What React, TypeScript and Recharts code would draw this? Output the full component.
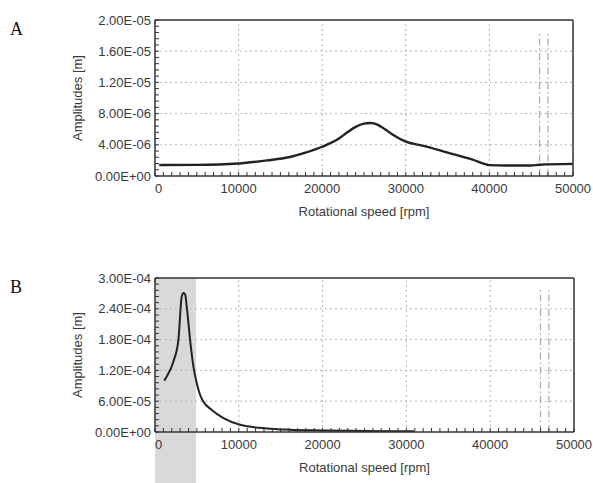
import React from 'react';
import { LineChart, Line, XAxis, YAxis, ReferenceLine, ReferenceArea } from 'recharts';

// Panel A: rotational speed [rpm] vs amplitude [m]
const rpmA = [500, 5000, 10000, 13400, 16000, 18000, 20000, 22000, 23000, 24000, 25000, 25800, 26600, 27500, 28500, 30000, 32000, 35000, 38000, 40000, 42000, 45000, 46000, 50000];
const ampA = [1.4e-6, 1.42e-6, 1.6e-6, 2.0e-6, 2.4e-6, 3.0e-6, 3.75e-6, 4.8e-6, 5.6e-6, 6.3e-6, 6.72e-6, 6.8e-6, 6.6e-6, 6.0e-6, 5.25e-6, 4.4e-6, 3.9e-6, 3.0e-6, 2.1e-6, 1.4e-6, 1.35e-6, 1.35e-6, 1.45e-6, 1.55e-6];

// Panel B
const rpmB = [1100, 1400, 2190, 2790, 3190, 3400, 3600, 3790, 4190, 4590, 4990, 5300, 5780, 6780, 8170, 10170, 13360, 16000, 20000, 25000, 30900];
const ampB = [1.0e-4, 1.08e-4, 1.37e-4, 1.79e-4, 2.64e-4, 2.71e-4, 2.68e-4, 2.44e-4, 1.79e-4, 1.27e-4, 9.5e-5, 7.6e-5, 5.9e-5, 4.3e-5, 2.7e-5, 1.4e-5, 7e-6, 4.5e-6, 3e-6, 2e-6, 1.5e-6];

const xMajorTicks = [0, 10000, 20000, 30000, 40000, 50000];
const yMajorTicksA = [0, 4e-6, 8e-6, 1.2e-5, 1.6e-5, 2e-5];
const yMajorTicksB = [0, 6e-5, 1.2e-4, 1.8e-4, 2.4e-4, 3e-4];
const criticalSpeeds = [46000, 47000];
const criticalTopA = 1.83e-5;
const criticalTopB = 2.77e-4;
const shadedRangeB = [0, 4900];
const xLabel = 'Rotational speed [rpm]';
const yLabel = 'Amplitudes [m]';

const dataA = rpmA.map((r, i) => ({ rpm: r, amp: ampA[i] }));
const dataB = rpmB.map((r, i) => ({ rpm: r, amp: ampB[i] }));

const FONT = '"Liberation Sans", Arial, sans-serif';
const TEXT = '#3a3a3a';
const AXIS = '#333';

function minorTicks(major: number[], per: number): number[] {
  const out: number[] = [];
  for (let i = 0; i < major.length - 1; i++) {
    const step = (major[i + 1] - major[i]) / per;
    for (let j = 0; j < per; j++) out.push(major[i] + j * step);
  }
  out.push(major[major.length - 1]);
  return out;
}

function fmtE(v: number): string {
  if (v === 0) return '0.00E+00';
  let exp = Math.floor(Math.log10(Math.abs(v)));
  let mant = v / Math.pow(10, exp);
  if (Math.abs(mant) >= 9.995) { exp += 1; mant /= 10; }
  const sign = exp < 0 ? '-' : '+';
  const e = String(Math.abs(exp)).padStart(2, '0');
  return mant.toFixed(2) + 'E' + sign + e;
}

function isMajor(v: number, majors: number[]) {
  const span = majors[majors.length - 1] - majors[0];
  return majors.some((m) => Math.abs(m - v) < span * 1e-6);
}

const makeBottomTick = () => (props: any) => {
  const { x, y, payload } = props;
  const v = payload.value;
  const major = isMajor(v, xMajorTicks);
  return (
    <g>
      <line x1={x} x2={x} y1={y} y2={y - 4} stroke={AXIS} strokeWidth={1} />
      {major && (
        <text x={x} y={y + 17} textAnchor={v === 0 ? 'start' : 'middle'} fontSize={13} fontFamily={FONT} fill={TEXT}>
          {v}
        </text>
      )}
    </g>
  );
};

const makeTopTick = () => (props: any) => {
  const { x, y } = props;
  return <line x1={x} x2={x} y1={y} y2={y + 4} stroke={AXIS} strokeWidth={1} />;
};

const makeRightTick = () => (props: any) => {
  const { x, y } = props;
  return <line x1={x} x2={x - 4} y1={y} y2={y} stroke={AXIS} strokeWidth={1} />;
};

const makeLeftTick = (majors: number[]) => (props: any) => {
  const { x, y, payload } = props;
  const v = payload.value;
  const major = isMajor(v, majors);
  return (
    <g>
      <line x1={x} x2={x + 4} y1={y} y2={y} stroke={AXIS} strokeWidth={1} />
      {major && (
        <text x={x - 4} y={y} dy="0.36em" textAnchor="end" fontSize={13} fontFamily={FONT} fill={TEXT}>
          {fmtE(v)}
        </text>
      )}
    </g>
  );
};

const xMinor = minorTicks(xMajorTicks, 10);

function Panel(props: {
  data: { rpm: number; amp: number }[];
  yMajors: number[];
  height: number;
  margin: { top: number; right: number; bottom: number; left: number };
  xAxisHeight: number;
  criticalTop: number;
  shaded?: number[];
  strokeWidth: number;
}) {
  const { data, yMajors, height, margin, xAxisHeight, criticalTop, shaded, strokeWidth } = props;
  const yMax = yMajors[yMajors.length - 1];
  const yMinor = minorTicks(yMajors, 5);
  const gridY = yMajors.slice(1, -1);
  const gridX = xMajorTicks.slice(1, -1);
  return (
    <LineChart width={593} height={height} data={data} margin={margin} style={{ fontFamily: FONT }}>
      {shaded && (
        <ReferenceArea
          x1={shaded[0]}
          x2={shaded[1]}
          y1={-yMax / 3}
          y2={yMax}
          ifOverflow="visible"
          fill="#d9d9d9"
          fillOpacity={1}
          stroke="none"
        />
      )}
      {gridY.map((v) => (
        <ReferenceLine key={'gy' + v} y={v} stroke="#b5b5b5" strokeDasharray="2 3" />
      ))}
      {gridX.map((v) => (
        <ReferenceLine key={'gx' + v} x={v} stroke="#b5b5b5" strokeDasharray="2 3" />
      ))}
      {criticalSpeeds.map((c) => (
        <ReferenceLine
          key={'c' + c}
          segment={[{ x: c, y: 0 }, { x: c, y: criticalTop }]}
          stroke="#a8a8a8"
          strokeWidth={1.2}
          strokeDasharray="7 3 1.5 3"
        />
      ))}
      <XAxis
        dataKey="rpm"
        type="number"
        domain={[0, 50000]}
        ticks={xMinor}
        interval={0}
        allowDataOverflow
        height={xAxisHeight}
        tickSize={0}
        tickMargin={0}
        tickLine={false}
        axisLine={{ stroke: AXIS, strokeWidth: 1.5 }}
        tick={makeBottomTick()}
        label={{ value: xLabel, position: 'insideTop', offset: 31, fill: TEXT, fontSize: 13, fontFamily: FONT }}
      />
      <XAxis
        xAxisId="top"
        orientation="top"
        type="number"
        domain={[0, 50000]}
        ticks={xMinor}
        interval={0}
        height={1}
        tickSize={0}
        tickMargin={0}
        tickLine={false}
        tick={makeTopTick()}
        axisLine={{ stroke: AXIS, strokeWidth: 1.5 }}
      />
      <YAxis
        type="number"
        domain={[0, yMax]}
        ticks={yMinor}
        interval={0}
        width={155}
        allowDataOverflow
        tickSize={0}
        tickMargin={0}
        tickLine={false}
        axisLine={{ stroke: AXIS, strokeWidth: 1.5 }}
        tick={makeLeftTick(yMajors)}
        label={{ value: yLabel, angle: -90, position: 'center', dx: 0, fill: TEXT, fontSize: 13, fontFamily: FONT }}
      />
      <YAxis
        yAxisId="r"
        orientation="right"
        type="number"
        domain={[0, yMax]}
        ticks={yMinor}
        interval={0}
        width={1}
        tickSize={0}
        tickMargin={0}
        tickLine={false}
        tick={makeRightTick()}
        axisLine={{ stroke: AXIS, strokeWidth: 1.5 }}
      />
      <Line
        type="monotone"
        dataKey="amp"
        stroke="#222"
        strokeWidth={strokeWidth}
        dot={false}
        isAnimationActive={false}
      />
    </LineChart>
  );
}

export default function App() {
  return (
    <div style={{ position: 'absolute', left: 0, top: 0, width: 593, height: 483, background: '#ffffff', overflow: 'hidden' }}>
      <div style={{ position: 'absolute', left: 10, top: 20, fontFamily: '"Liberation Serif", serif', fontSize: 18, lineHeight: '18px', color: '#111' }}>A</div>
      <div style={{ position: 'absolute', left: 10, top: 278, fontFamily: '"Liberation Serif", serif', fontSize: 18, lineHeight: '18px', color: '#111' }}>B</div>
      <div style={{ position: 'absolute', left: 0, top: 0 }}>
        <Panel
          data={dataA}
          yMajors={yMajorTicksA}
          height={240}
          margin={{ top: 19, right: 19, bottom: 0, left: 0 }}
          xAxisHeight={64}
          criticalTop={criticalTopA}
          strokeWidth={2.4}
        />
      </div>
      <div style={{ position: 'absolute', left: 0, top: 240 }}>
        <Panel
          data={dataB}
          yMajors={yMajorTicksB}
          height={243}
          margin={{ top: 37, right: 18, bottom: 0, left: 0 }}
          xAxisHeight={51}
          criticalTop={criticalTopB}
          shaded={shadedRangeB}
          strokeWidth={2}
        />
      </div>
    </div>
  );
}
